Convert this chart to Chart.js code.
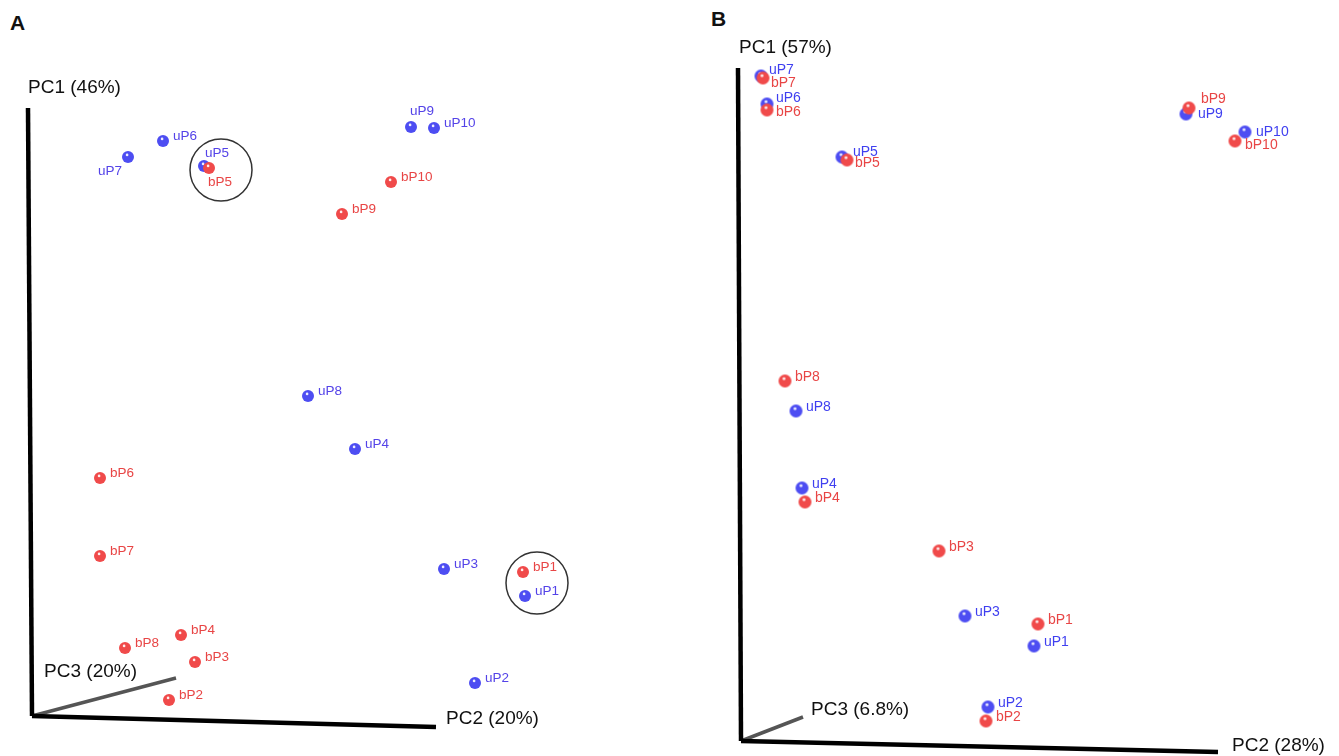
<!DOCTYPE html>
<html>
<head>
<meta charset="utf-8">
<script src="https://cdn.jsdelivr.net/npm/chart.js@4.4.1/dist/chart.umd.min.js"></script>
<style>
  body { margin: 0; background: #fff; width: 1339px; height: 756px; overflow: hidden; position: relative; font-family: "Liberation Sans", Arial, sans-serif; }
  canvas { position: absolute; top: 0; }
  .tag { position: absolute; font-weight: bold; font-size: 21px; color: #111; line-height: 1; }
</style>
</head>
<body>
<div class="tag" style="left:10px;top:12px">A</div>
<div class="tag" style="left:711px;top:8px">B</div>
<canvas id="chartA" width="670" height="756" style="left:0"></canvas>
<canvas id="chartB" width="669" height="756" style="left:670px"></canvas>
<script>
// projected PCoA coordinates (horizontal / vertical distance from the origin of the 3D axes)
let uNames = ["uP1", "uP2", "uP3", "uP4", "uP5", "uP6", "uP7", "uP8", "uP9", "uP10"];
let bNames = ["bP1", "bP2", "bP3", "bP4", "bP5", "bP6", "bP7", "bP8", "bP9", "bP10"];

// panel A
let uXA = [493, 443, 412, 323, 172, 131, 96, 276, 379, 402];
let uYA = [120, 33, 147, 267, 550, 575, 559, 320, 589, 588];
let bXA = [491, 137, 163, 149, 177, 68, 68, 93, 310, 359];
let bYA = [144, 16, 54, 81, 548, 238, 160, 68, 502, 534];
let ringXA = [189, 505];
let ringYA = [546, 133];
let axisTitlesA = ["PC1 (46%)", "PC2 (20%)", "PC3 (20%)"];
let axisEndsA = { pc1: [-4, 608], pc2: [404, -11], pc3: [144, 38] };

// panel B
let uXB = [293, 247, 224, 61, 101, 26, 20, 55, 445, 504];
let uYB = [95, 34, 125, 253, 584, 637, 665, 330, 627, 609];
let bXB = [297, 245, 198, 64, 106, 26, 22, 44, 448, 494];
let bYB = [117, 20, 190, 239, 581, 631, 663, 360, 633, 600];
let axisTitlesB = ["PC1 (57%)", "PC2 (28%)", "PC3 (6.8%)"];
let axisEndsB = { pc1: [-3, 673], pc2: [477, -11], pc3: [62, 24] };

const BLUE = "#4d4df2";
const RED = "#f04a4a";

makeSphere = (color, r) => {
  let c = document.createElement("canvas");
  let s = Math.ceil(2 * r + 2);
  c.width = s;
  c.height = s;
  let g = c.getContext("2d");
  let m = s / 2;
  g.fillStyle = color;
  g.beginPath();
  g.arc(m, m, r, 0, Math.PI * 2);
  g.fill();
  g.fillStyle = "rgba(255,255,255,0.9)";
  g.beginPath();
  g.arc(m - r * 0.15, m - r * 0.35, r * 0.22, 0, Math.PI * 2);
  g.fill();
  return c;
};

toPoints = (xs, ys) => xs.map((x, i) => ({ x: x, y: ys[i] }));

// label placement tweaks (pixels from the point centre)
let labelShiftA = { uP7: [-30, 14], uP5: [1, -13], bP5: [-1, 14], uP9: [-1, -16] };
let labelShiftB = { uP7: [8, -6], bP7: [8, 5], uP6: [9, -6], bP6: [9, 2], uP5: [11, -5], bP5: [8, 3],
  bP9: [12, -9], uP9: [12, 0], uP10: [11, 0], bP10: [10, 4] };

const pointLabels = {
  id: "pointLabels",
  afterDatasetsDraw(chart) {
    let ctx = chart.ctx;
    let cfg = chart.options.plugins.pointLabels;
    ctx.save();
    ctx.font = cfg.font;
    ctx.textBaseline = "middle";
    ctx.textAlign = "left";
    chart.data.datasets.forEach((ds, di) => {
      if (!ds.names) return;
      let meta = chart.getDatasetMeta(di);
      ctx.fillStyle = ds.labelColor;
      meta.data.forEach((pt, i) => {
        let sh = cfg.shift[ds.names[i]] || cfg.defaultShift;
        ctx.fillText(ds.names[i], pt.x + sh[0], pt.y + sh[1]);
      });
    });
    // axis titles
    ctx.font = cfg.titleFont;
    ctx.fillStyle = "#111";
    let sx = chart.scales.x, sy = chart.scales.y;
    cfg.titles.forEach((t) => {
      let px = sx.getPixelForValue(t.at[0]) + t.dx;
      let py = sy.getPixelForValue(t.at[1]) + t.dy;
      ctx.textAlign = t.align || "left";
      ctx.fillText(t.text, px, py);
    });
    ctx.restore();
  },
};

makePanel = (id, p) => {
  let ctx = document.getElementById(id).getContext("2d");
  let datasets = [
    {
      names: bNames, labelColor: "#e84545",
      data: toPoints(p.bX, p.bY),
      pointStyle: makeSphere(RED, p.r), pointRadius: p.r, order: 0,
    },
    {
      names: uNames, labelColor: p.uLabel,
      data: toPoints(p.uX, p.uY),
      pointStyle: makeSphere(BLUE, p.r), pointRadius: p.r, order: 1,
    },
    {
      data: [{ x: 0, y: 0 }, { x: p.ends.pc1[0], y: p.ends.pc1[1] }],
      showLine: true, borderColor: "#000", borderWidth: 4.5, pointRadius: 0, order: 4,
    },
    {
      data: [{ x: 0, y: 0 }, { x: p.ends.pc2[0], y: p.ends.pc2[1] }],
      showLine: true, borderColor: "#000", borderWidth: 4.5, pointRadius: 0, order: 4,
    },
    {
      data: [{ x: 0, y: 0 }, { x: p.ends.pc3[0], y: p.ends.pc3[1] }],
      showLine: true, borderColor: "#555", borderWidth: 3.5, pointRadius: 0, order: 5,
    },
  ];
  if (p.ringX) {
    datasets.push({
      data: toPoints(p.ringX, p.ringY),
      pointStyle: "circle", pointRadius: 31, pointBackgroundColor: "rgba(0,0,0,0)",
      pointBorderColor: "#333", pointBorderWidth: 1.5, order: 3,
    });
  }
  new Chart(ctx, {
    type: "scatter",
    data: { datasets: datasets },
    options: {
      responsive: false,
      animation: false,
      layout: { padding: 0, autoPadding: false },
      events: [],
      scales: {
        x: { type: "linear", display: false, min: p.xRange[0], max: p.xRange[1] },
        y: { type: "linear", display: false, min: p.yRange[0], max: p.yRange[1] },
      },
      plugins: {
        legend: { display: false },
        tooltip: { enabled: false },
        pointLabels: {
          font: p.labelFont,
          titleFont: "19px 'Liberation Sans', Arial, sans-serif",
          shift: p.shift,
          defaultShift: p.defaultShift,
          titles: p.titles,
        },
      },
    },
    plugins: [pointLabels],
  });
};

window.onload = () => {
  makePanel("chartA", {
    uX: uXA, uY: uYA, bX: bXA, bY: bYA, ringX: ringXA, ringY: ringYA,
    ends: axisEndsA, r: 6, uLabel: "#5443e8",
    xRange: [-32, 638], yRange: [-40, 716],
    labelFont: "13.5px 'Liberation Sans', Arial, sans-serif",
    shift: labelShiftA, defaultShift: [10, -5],
    titles: [
      { text: axisTitlesA[0], at: axisEndsA.pc1, dx: 0, dy: -20 },
      { text: axisTitlesA[1], at: axisEndsA.pc2, dx: 10, dy: -8 },
      { text: axisTitlesA[2], at: axisEndsA.pc3, dx: -39, dy: -6, align: "right" },
    ],
  });
  makePanel("chartB", {
    uX: uXB, uY: uYB, bX: bXB, bY: bYB,
    ends: axisEndsB, r: 6.5, uLabel: "#3f3ff0",
    xRange: [-71, 598], yRange: [-15, 741],
    labelFont: "14px 'Liberation Sans', Arial, sans-serif",
    shift: labelShiftB, defaultShift: [10, -4],
    titles: [
      { text: axisTitlesB[0], at: axisEndsB.pc1, dx: 1, dy: -20 },
      { text: axisTitlesB[1], at: axisEndsB.pc2, dx: 14, dy: -6 },
      { text: axisTitlesB[2], at: axisEndsB.pc3, dx: 8, dy: -7 },
    ],
  });
};
</script>
</body>
</html>
